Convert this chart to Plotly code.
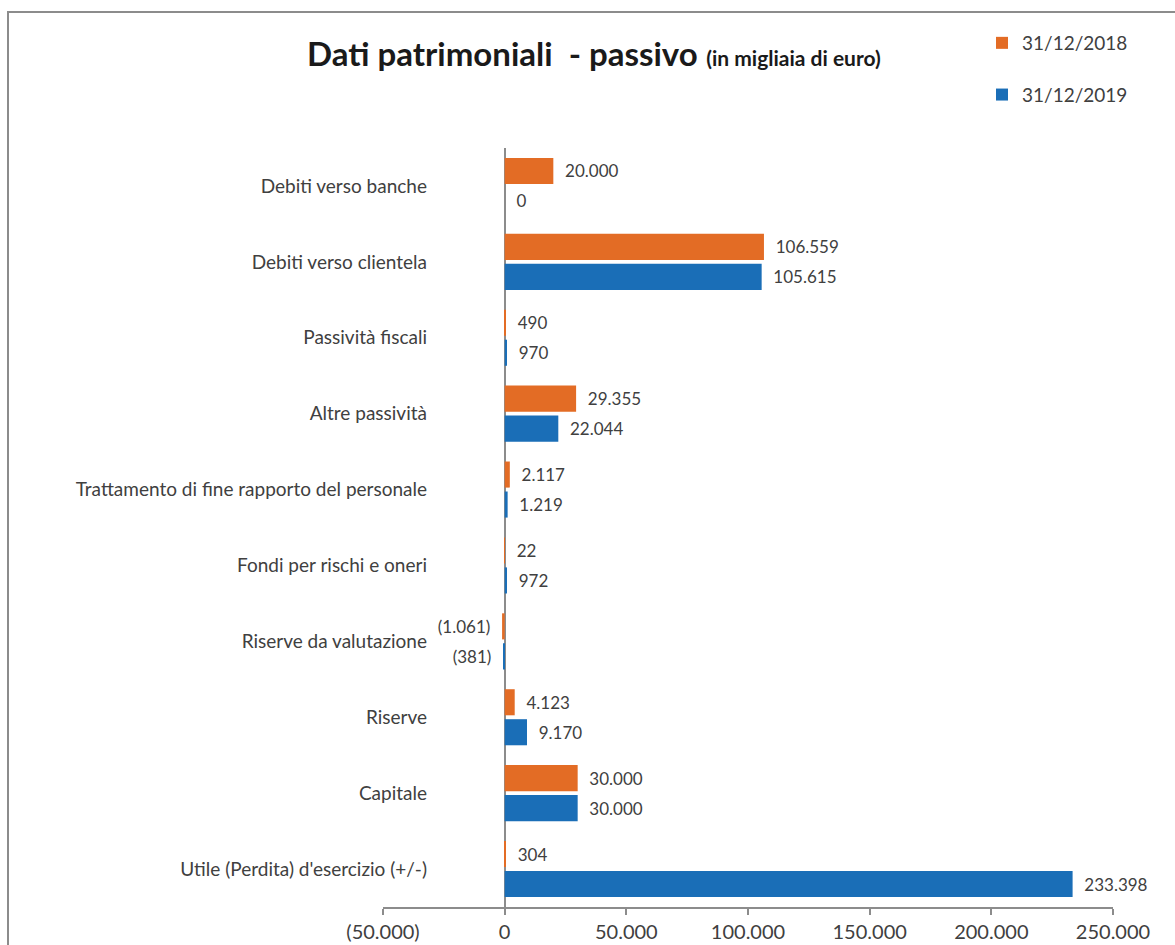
import plotly.graph_objects as go

categories = [
    "Debiti verso banche",
    "Debiti verso clientela",
    "Passività fiscali",
    "Altre passività",
    "Trattamento di fine rapporto del personale",
    "Fondi per rischi e oneri",
    "Riserve da valutazione",
    "Riserve",
    "Capitale",
    "Utile (Perdita) d'esercizio (+/-)",
]
values_2018 = [20000, 106559, 490, 29355, 2117, 22, -1061, 4123, 30000, 304]
values_2019 = [0, 105615, 970, 22044, 1219, 972, -381, 9170, 30000, 233398]
series_names = ["31/12/2018", "31/12/2019"]
tick_values = [-50000, 0, 50000, 100000, 150000, 200000, 250000]

ORANGE = "#E36C25"
BLUE = "#1A6EB7"
TEXT = "#404040"
GREY = "#8C8C8C"
FONT = "Lato, 'Open Sans', sans-serif"
NBSP = "\u00a0"


def fmt_it(v):
    s = f"{abs(v):,.0f}".replace(",", ".")
    return f"({s})" if v < 0 else s


def pad(v):
    # keep a little room between the bar end and its label
    t = fmt_it(v)
    return t + NBSP * 2 if v < 0 else NBSP * 2 + t


W, H = 1175, 945
L, R, T, B = 383, 62, 148, 38
pw, ph = W - L - R, H - T - B


def px_x(p):
    return (p - L) / pw


def px_y(p):
    return (H - B - p) / ph


fig = go.Figure()
for name, vals, col in [(series_names[0], values_2018, ORANGE),
                        (series_names[1], values_2019, BLUE)]:
    fig.add_trace(go.Bar(
        y=categories, x=vals, name=name, orientation="h",
        marker=dict(color=col, line=dict(width=0)),
        text=[pad(v) for v in vals], textposition="outside",
        textfont=dict(family=FONT, size=17, color=TEXT),
        constraintext="none", cliponaxis=False,
        legendgroup=name,
    ))

fig.update_layout(
    width=W, height=H,
    margin=dict(l=L, r=R, t=T, b=B, autoexpand=False),
    paper_bgcolor="white", plot_bgcolor="white",
    barmode="group", bargap=0.21, bargroupgap=0.13,
    font=dict(family=FONT, color=TEXT),
    showlegend=True,
    legend=dict(
        x=px_x(982), y=px_y(24), xanchor="left", yanchor="top",
        font=dict(family=FONT, size=19, color=TEXT),
        tracegroupgap=24, bgcolor="rgba(0,0,0,0)",
    ),
    xaxis=dict(
        range=[-50000, 250000], tickvals=tick_values,
        ticktext=[fmt_it(v) for v in tick_values],
        showgrid=False, showline=True, linecolor=GREY, linewidth=1.5,
        ticks="outside", ticklen=6, tickcolor=GREY, tickwidth=1.5,
        tickfont=dict(family=FONT, size=20, color=TEXT),
        zeroline=True, zerolinecolor=GREY, zerolinewidth=1.5,
        fixedrange=True, automargin=False,
    ),
    yaxis=dict(
        autorange="reversed", showgrid=False, showline=False,
        ticks="", anchor="free", position=px_x(427),
        tickfont=dict(family=FONT, size=19, color=TEXT),
        fixedrange=True, automargin=False,
    ),
    annotations=[dict(
        xref="paper", yref="paper", x=px_x(305), y=px_y(53),
        xanchor="left", yanchor="middle", showarrow=False,
        text="<b>Dati patrimoniali  - passivo</b> <b><span style='font-size:21px'>(in migliaia di euro)</span></b>",
        font=dict(family=FONT, size=33, color="#1a1a1a"),
    )],
    shapes=[dict(
        type="rect", xref="paper", yref="paper",
        x0=px_x(8), y0=px_y(960), x1=px_x(1190), y1=px_y(12),
        line=dict(color=GREY, width=2), fillcolor="rgba(0,0,0,0)",
        layer="below",
    )],
)

fig.write_html("out.html")
